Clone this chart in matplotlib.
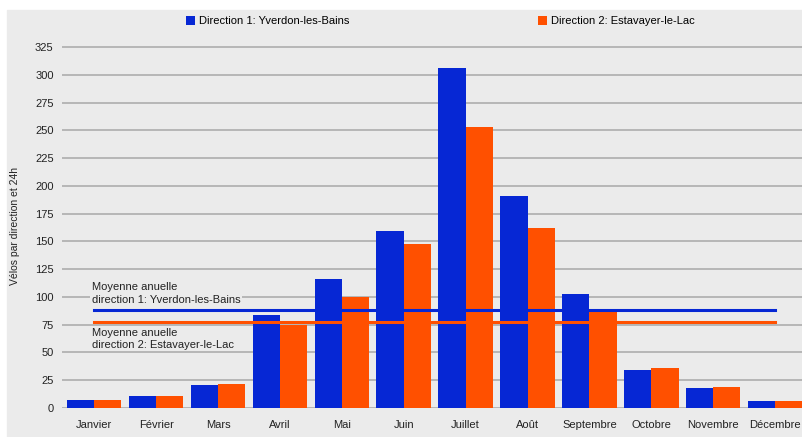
import numpy as np
import matplotlib.pyplot as plt
from matplotlib.patches import Rectangle

plt.rcParams['font.family'] = ['Liberation Sans', 'DejaVu Sans']

months = ["Janvier", "Février", "Mars", "Avril", "Mai", "Juin", "Juillet",
          "Août", "Septembre", "Octobre", "Novembre", "Décembre"]
yverdon = [7, 11, 21, 84, 116, 159, 306, 191, 103, 34, 18, 6]
estavayer = [7.5, 11, 22, 75, 100, 148, 253, 162, 88, 36, 19, 6]
label1 = "Direction 1: Yverdon-les-Bains"
label2 = "Direction 2: Estavayer-le-Lac"
yticks = np.arange(0, 326, 25)

blue = "#0627d4"
orange = "#ff5000"
bg = "#ebebeb"

W, H = 803, 437
fig = plt.figure(figsize=(W / 100, H / 100), dpi=100, facecolor="white")
fig.patches.append(Rectangle((7 / W, 0), 1 - 7 / W, 1 - 10 / H,
                             transform=fig.transFigure, color=bg, zorder=-10))

# axes placed in pixel terms: 0 at y=408, 325 at y=47
ppu = (408 - 47) / 325
ytop = 328
bottom = 1 - 408 / H
top = 1 - (408 - ytop * ppu) / H
ax = fig.add_axes([62 / W, bottom, 1 - 62 / W, top - bottom])
ax.set_facecolor("none")

x = np.arange(len(months))
bw = 0.44
ax.bar(x - bw / 2, yverdon, bw, color=blue, label=label1, zorder=3)
ax.bar(x + bw / 2, estavayer, bw, color=orange, label=label2, zorder=3)

m1 = np.mean(yverdon)
m2 = np.mean(estavayer)
ax.plot([x[0], x[-1]], [m1, m1], color=blue, lw=2.2, zorder=4)
ax.plot([x[0], x[-1]], [m2, m2], color=orange, lw=2.2, zorder=4)

ax.text(-0.04, m1 + 5, "Moyenne anuelle\ndirection 1: Yverdon-les-Bains",
        fontsize=8, color="#222222", va="bottom", ha="left", zorder=2,
        linespacing=1.3,
        bbox=dict(facecolor=bg, edgecolor="none", pad=1))
ax.text(-0.04, m2 - 5, "Moyenne anuelle\ndirection 2: Estavayer-le-Lac",
        fontsize=8, color="#222222", va="top", ha="left", zorder=2,
        linespacing=1.3,
        bbox=dict(facecolor=bg, edgecolor="none", pad=1))

ax.set_xlim(-0.52, 11.45)
ax.set_ylim(0, ytop)
ax.set_yticks(yticks)
ax.set_xticks(x)
ax.set_xticklabels(months)
ax.yaxis.grid(True, color="#adadad", lw=1.2, zorder=1)
ax.set_axisbelow(True)
for s in ax.spines.values():
    s.set_visible(False)
ax.tick_params(length=0, labelsize=8, colors="#222222", pad=6)
ax.tick_params(axis="x", pad=9)
ax.set_ylabel("Vélos par direction et 24h", fontsize=7.5, color="#222222",
              labelpad=11)

ax.legend(loc="center left", bbox_to_anchor=((186 - 10) / W, 1 - 21 / H),
          bbox_transform=fig.transFigure,
          ncol=2, frameon=False, fontsize=8, handlelength=0.85, handleheight=0.85,
          handletextpad=0.3, columnspacing=17)

fig.savefig("out.png", dpi=100, facecolor="white")
